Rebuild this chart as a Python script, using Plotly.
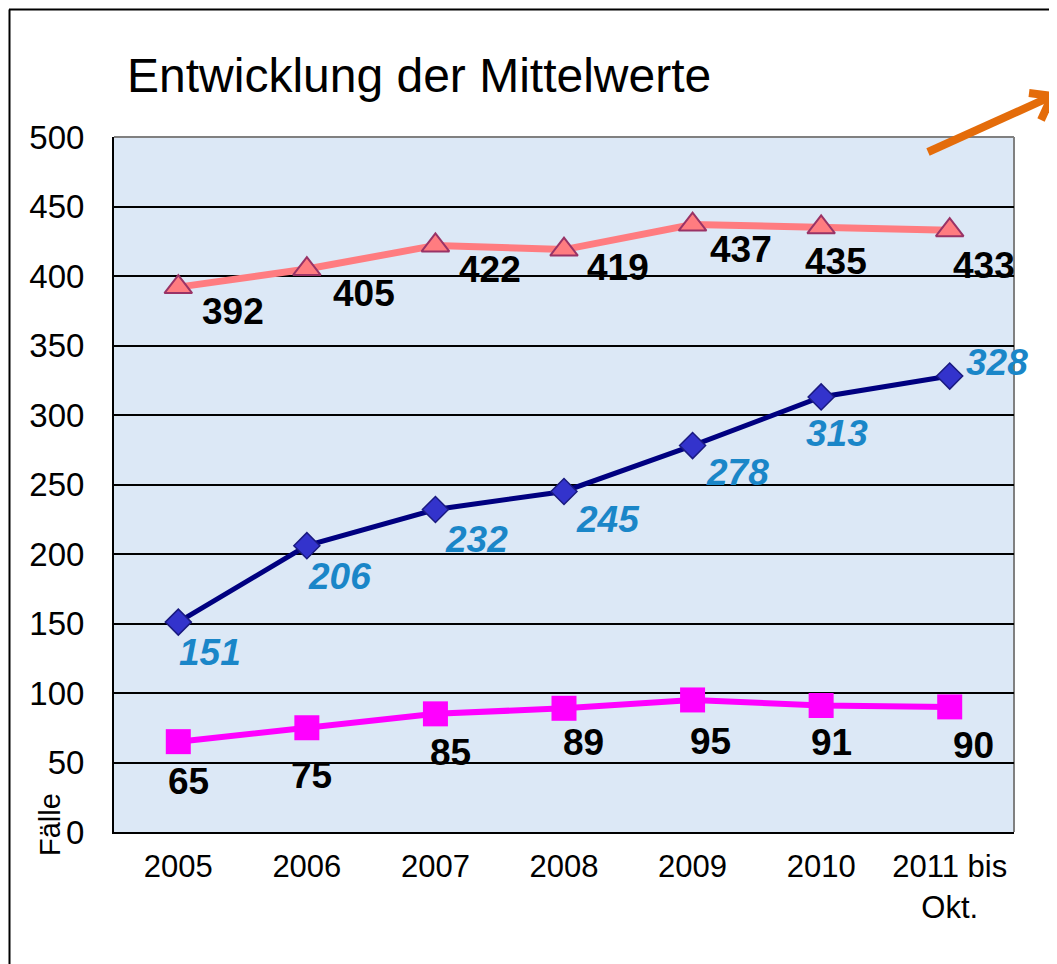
import plotly.graph_objects as go

categories = ["2005", "2006", "2007", "2008", "2009", "2010", "2011 bis<br>Okt."]
series_top = [392, 405, 422, 419, 437, 435, 433]      # pink triangles
series_mid = [151, 206, 232, 245, 278, 313, 328]      # navy diamonds
series_low = [65, 75, 85, 89, 95, 91, 90]             # magenta squares
y_ticks = [0, 50, 100, 150, 200, 250, 300, 350, 400, 450, 500]

# label offsets in pixels (dx, dy with dy downward)
off_top = [(55, 24), (57, 24), (55, 24), (54, 18), (48, 25), (15, 34), (34, 35)]
off_mid = [(32, 30), (33, 31), (41, 30), (44, 28), (45, 27), (16, 37), (47, -14)]
off_low = [(10, 40), (5, 48), (15, 39), (19, 34), (18, 42), (10, 37), (24, 39)]

FONT = "Liberation Sans, Arial, sans-serif"

fig = go.Figure()
fig.add_trace(go.Scatter(
    x=categories, y=series_top, mode="lines+markers",
    line=dict(color="#ff7c80", width=7),
    marker=dict(symbol="triangle-up", size=24, color="#ff7c80",
                line=dict(color="#993366", width=2)),
    showlegend=False, cliponaxis=False))
fig.add_trace(go.Scatter(
    x=categories, y=series_mid, mode="lines+markers",
    line=dict(color="#000080", width=5),
    marker=dict(symbol="diamond", size=20, color="#3333cc",
                line=dict(color="#1a1a80", width=1.5)),
    showlegend=False, cliponaxis=False))
fig.add_trace(go.Scatter(
    x=categories, y=series_low, mode="lines+markers",
    line=dict(color="#ff00ff", width=6),
    marker=dict(symbol="square", size=25, color="#ff00ff"),
    showlegend=False, cliponaxis=False))

annotations = []
for vals, offs, col, ital in [(series_top, off_top, "#000000", False),
                              (series_mid, off_mid, "#1a86c8", True),
                              (series_low, off_low, "#000000", False)]:
    for i, (v, (dx, dy)) in enumerate(zip(vals, offs)):
        txt = f"<b>{v}</b>"
        if ital:
            txt = f"<i>{txt}</i>"
        annotations.append(dict(x=i, y=v, xref="x", yref="y", text=txt,
                                showarrow=False, xshift=dx, yshift=-dy,
                                font=dict(family=FONT, size=37, color=col)))

annotations.append(dict(xref="paper", yref="paper", x=0.0122, y=1.089,
                        xanchor="left", yanchor="middle", showarrow=False,
                        text="Entwicklung der Mittelwerte",
                        font=dict(family=FONT, size=48, color="#000000")))
annotations.append(dict(xref="paper", yref="paper", x=-0.0711, y=0.01,
                        xanchor="center", yanchor="middle", showarrow=False,
                        text="Fälle", textangle=-90,
                        font=dict(family=FONT, size=29, color="#000000")))

# page pixel -> paper coordinate helpers (plot area spans x 114..1014, y 137..832 on the page)
def px(xp):
    return (xp - 114) / 900.0

def py(yp):
    return (832 - yp) / 695.0

orange = "#e46c0a"
shapes = [
    # outer frame
    dict(type="line", xref="paper", yref="paper", x0=px(9.5), y0=py(980), x1=px(9.5), y1=py(9.5),
         line=dict(color="#000000", width=2)),
    dict(type="line", xref="paper", yref="paper", x0=px(9), y0=py(9.5), x1=px(1070), y1=py(9.5),
         line=dict(color="#000000", width=2)),
    # grey top/right plot border
    dict(type="line", xref="paper", yref="paper", x0=0, y0=1, x1=1, y1=1,
         line=dict(color="#808080", width=2), layer="below"),
    dict(type="line", xref="paper", yref="paper", x0=1, y0=0, x1=1, y1=1,
         line=dict(color="#808080", width=2), layer="below"),
    # orange arrow
    dict(type="line", xref="paper", yref="paper", x0=px(928), y0=py(152), x1=px(1050), y1=py(97),
         line=dict(color=orange, width=8)),
    dict(type="line", xref="paper", yref="paper", x0=px(1052), y0=py(96), x1=px(1029), y1=py(93),
         line=dict(color=orange, width=8)),
    dict(type="line", xref="paper", yref="paper", x0=px(1052), y0=py(96), x1=px(1041), y1=py(120),
         line=dict(color=orange, width=8)),
]

fig.update_layout(
    width=1049, height=956,
    margin=dict(l=106, r=43, t=129, b=132),
    paper_bgcolor="#ffffff", plot_bgcolor="#dce8f6",
    font=dict(family=FONT, color="#000000"),
    annotations=annotations, shapes=shapes,
    showlegend=False,
)
fig.update_xaxes(
    type="category", range=[-0.5, 6.5],
    showline=True, linecolor="#000000", linewidth=2,
    showgrid=False, ticks="", tickfont=dict(family=FONT, size=31),
    ticklabelstandoff=6,
)
fig.update_yaxes(
    range=[0, 500], tickvals=y_ticks, ticktext=[str(t) for t in y_ticks],
    showline=True, linecolor="#000000", linewidth=2,
    showgrid=True, gridcolor="#000000", gridwidth=2, zeroline=False,
    ticks="", tickfont=dict(family=FONT, size=33), ticklabelstandoff=21,
)

fig.write_html("out.html")
